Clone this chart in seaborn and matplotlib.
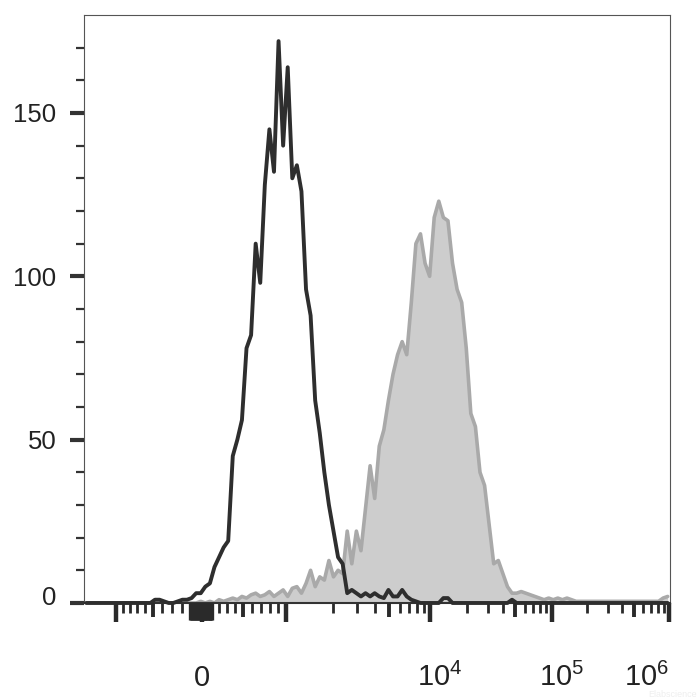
import numpy as np
import matplotlib
matplotlib.use('Agg')
import matplotlib.pyplot as plt
import matplotlib.transforms as mtransforms
import seaborn as sns

sns.set_style('ticks')
plt.rcParams['font.family'] = ['Liberation Sans', 'DejaVu Sans']
plt.rcParams['mathtext.fontset'] = 'custom'
plt.rcParams['mathtext.rm'] = 'Liberation Sans'
plt.rcParams['mathtext.it'] = 'Liberation Sans'

# biex-like display axis: fluorescence value -> display position (0..586)
axis_vals = [-2000, -1000, -500, 0, 500, 1000, 2000, 5000, 1e4, 1e5, 1e6, 1e7]
axis_pos = [-20, 32, 69, 118, 159, 202, 249, 305, 346, 468, 585, 702]
display_max = 586
n_bins = 128

# counts per display bin
isotype_counts = [
    0, 0, 0, 0, 0, 0, 0, 0, 0, 0, 0, 0, 0, 0, 0, 1,
    1, 0.5, 0, 0, 0.5, 1, 1, 1.5, 3, 3, 5, 6, 11, 14, 17, 19,
    45, 50, 56, 78, 82, 110, 98, 128, 145, 132, 172, 140, 164, 130, 134, 126,
    96, 88, 62, 52, 40, 30, 22, 14, 12, 3, 4, 3, 2, 3, 2, 3,
    2, 1.5, 4, 2, 2, 4, 2, 1, 0.5, 0, 0, 0, 0, 0, 1.5, 1.5,
    0, 0, 0, 0, 0, 0, 0, 0, 0, 0, 0, 0, 0, 1, 0, 0,
    0, 0, 0, 0, 0, 0, 0, 0, 0, 0, 0, 0, 0, 0, 0, 0,
    0, 0, 0, 0, 0, 0, 0, 0, 0, 0, 0, 0, 0, 0, 0, 0,
]
stained_counts = [
    0, 0, 0, 0, 0, 0, 0, 0, 0, 0, 0, 0, 0, 0, 0, 0,
    0, 0, 0, 0, 0, 0, 0, 0, 0, 0.5, 0, 0.5, 0, 1, 0.5, 1,
    1.5, 1, 2, 1.5, 2.5, 3, 2, 2.5, 3.5, 2, 3, 4, 2, 4.5, 5, 3,
    6, 10, 5, 8, 7, 13, 8, 10, 9, 22, 12, 22, 16, 29, 42, 32,
    48, 53, 62, 70, 76, 80, 76, 92, 110, 113, 104, 100, 118, 123, 118, 117,
    104, 96, 92, 78, 58, 54, 40, 36, 24, 12, 13, 9, 5, 3, 3, 3.5,
    3, 2.5, 2, 1.5, 1, 1.5, 1, 1.5, 1, 1.5, 1, 0.5, 0.5, 0.5, 0.5, 0.5,
    0.5, 0.5, 0.5, 0.5, 0.5, 0.5, 0.5, 0.5, 0.5, 0.5, 0.5, 0.5, 0.5, 0.5, 1.5, 2,
]

major_ticks = [-1000, 0, 1000, 1e4, 1e5, 1e6]
major_labels = ['', '$0$', '', '$10^4$', '$10^5$', '$10^6$']
label_shift_px = [0, 0, 0, 10, 10, -22]
mid_ticks = [-500, 500, 5000, 5e4, 5e5]
zero_ticks = [v for v in range(-120, 121, 10) if v != 0]
minor_ticks = ([-900, -800, -700, -600, -400, -300, -200,
                200, 300, 400, 600, 700, 800, 900,
                2000, 3000, 4000, 6000, 7000, 8000, 9000]
               + [m * 1e4 for m in (2, 3, 4, 6, 7, 8, 9)]
               + [m * 1e5 for m in (2, 3, 4, 6, 7, 8, 9)])

warp_anchor = np.arcsinh(np.array(axis_vals) / 1000.0)


def to_display(x):
    return np.interp(np.arcsinh(np.asarray(x, dtype=float) / 1000.0), warp_anchor, axis_pos)


def from_display(p):
    return 1000.0 * np.sinh(np.interp(np.asarray(p, dtype=float), axis_pos, warp_anchor))


centers = from_display(np.linspace(0, display_max, 2 * n_bins + 1)[1::2])

fig = plt.figure(figsize=(7, 7), dpi=100)
ax = fig.add_axes([0.12, 0.1386, 0.8371, 0.84])
ax.set_xscale('function', functions=(to_display, from_display))

ax.fill_between(centers, stained_counts, color='#cdcdcd', lw=0, zorder=1)
sns.lineplot(x=centers, y=stained_counts, color='#a9a9a9', lw=2.6, ax=ax, zorder=2)
sns.lineplot(x=centers, y=isotype_counts, color='#2e2e2e', lw=2.8, ax=ax,
             zorder=3, clip_on=False)

ax.set_xlim(from_display(0), from_display(display_max))
ax.set_ylim(0, 180)

# y axis
ax.set_yticks([0, 50, 100, 150])
ax.set_yticks([v for v in range(10, 180, 10) if v % 50], minor=True)
ax.tick_params(axis='y', which='major', direction='out', length=10, width=3,
               color='#333333', pad=10, labelsize=18.5, labelcolor='#222222')
ax.tick_params(axis='y', which='minor', direction='out', length=5.5, width=1.6,
               color='#333333')

# x axis
ax.set_xticks(major_ticks)
ax.set_xticklabels(major_labels)
ax.set_xticks(minor_ticks, minor=True)
ax.tick_params(axis='x', which='major', direction='out', length=14, width=3.2,
               color='#2a2a2a', pad=46, labelsize=21, labelcolor='#222222')
ax.tick_params(axis='x', which='minor', direction='out', length=7, width=2,
               color='#2a2a2a')
for lab, dx in zip(ax.get_xticklabels(), label_shift_px):
    lab.set_va('baseline')
    lab.set_transform(lab.get_transform()
                      + mtransforms.ScaledTranslation(dx / 100, 0, fig.dpi_scale_trans))
for lab in ax.get_yticklabels():
    if lab.get_text() in ('0', '$\\mathdefault{0}$'):
        lab.set_transform(lab.get_transform()
                          + mtransforms.ScaledTranslation(0, 7 / 100, fig.dpi_scale_trans))

# medium ticks and the dense block around zero
ax2 = ax.twiny()
ax2.set_xscale('function', functions=(to_display, from_display))
ax2.set_xlim(ax.get_xlim())
ax2.xaxis.set_ticks_position('bottom')
ax2.set_xticks(mid_ticks)
ax2.set_xticklabels([])
ax2.set_xticks(zero_ticks, minor=True)
ax2.tick_params(axis='x', which='major', direction='out', length=10, width=2.8,
                color='#2a2a2a')
ax2.tick_params(axis='x', which='minor', direction='out', length=12, width=2.4,
                color='#2a2a2a')
for s in ax2.spines.values():
    s.set_visible(False)

for side in ('left', 'top', 'right'):
    ax.spines[side].set_color('#555555')
    ax.spines[side].set_linewidth(0.8)
ax.spines['bottom'].set_color('#333333')
ax.spines['bottom'].set_linewidth(1.5)
ax.set_xlabel('')
ax.set_ylabel('')

# faint watermark, kept clear of the tick labels
fig.text(0.995, 0.001, 'Elabscience', color='#eeeeee', fontsize=6.5,
         ha='right', va='bottom')

fig.savefig('out.png', dpi=100)
